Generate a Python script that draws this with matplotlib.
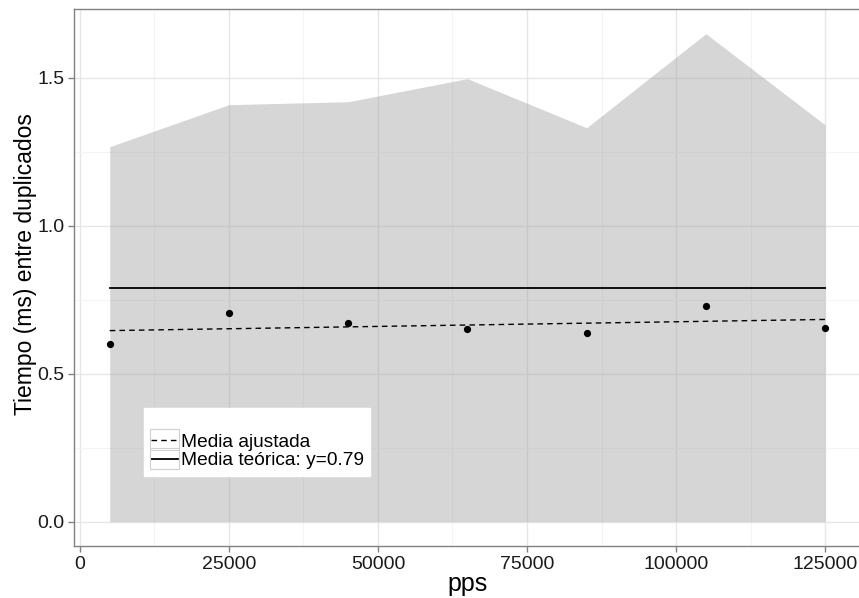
import numpy as np
import matplotlib.pyplot as plt
from matplotlib.patches import Rectangle

plt.rcParams['font.family'] = ['Liberation Sans', 'DejaVu Sans']

# measurements per packet rate
pps = np.array([5000, 25000, 45000, 65000, 85000, 105000, 125000])
media = np.array([0.601, 0.706, 0.670, 0.650, 0.639, 0.730, 0.654])
maximo = np.array([1.267, 1.409, 1.419, 1.497, 1.331, 1.649, 1.341])
media_teorica = 0.79

# linear fit of the mean
coef = np.polyfit(pps, media, 1)
ajuste = np.polyval(coef, pps)

fig = plt.figure(figsize=(8.59, 5.98), dpi=100)
ax = fig.add_axes([0.0861, 0.087, 0.916, 0.898])

ax.fill_between(pps, 0, maximo, color='#999999', alpha=0.4, linewidth=0, zorder=2)
ax.plot(pps, ajuste, color='black', linestyle=(0, (4, 3)), linewidth=1.0,
        label='Media ajustada', zorder=3)
ax.plot(pps, np.full(len(pps), media_teorica), color='black', linewidth=1.3,
        label='Media teórica: y=%.2f' % media_teorica, zorder=3)
ax.plot(pps, media, 'o', color='black', markersize=4.2, zorder=4)

ax.set_xlim(-1000, 131000)
ax.set_ylim(-0.0825, 1.7325)
ax.set_xticks([0, 25000, 50000, 75000, 100000, 125000])
ax.set_xticks([12500, 37500, 62500, 87500, 112500], minor=True)
ax.set_yticks([0.0, 0.5, 1.0, 1.5])
ax.set_yticks([0.25, 0.75, 1.25], minor=True)
ax.set_yticklabels(['0.0', '0.5', '1.0', '1.5'])

ax.grid(True, which='major', color='#e6e6e6', linewidth=1.0, zorder=0)
ax.grid(True, which='minor', color='#f4f4f4', linewidth=0.8, zorder=0)
ax.set_axisbelow(True)

for s in ax.spines.values():
    s.set_color('#808080')
    s.set_linewidth(1.0)
ax.tick_params(which='major', length=4, width=1, color='#808080',
               labelsize=14, labelcolor='#1a1a1a', pad=3)
ax.tick_params(which='minor', length=0)

ax.set_xlabel('pps', fontsize=18)
ax.set_ylabel('Tiempo (ms) entre duplicados', fontsize=16.5)
ax.xaxis.set_label_coords(0.5, -0.048)
ax.xaxis.label.set_verticalalignment('top')
ax.yaxis.set_label_coords(-0.047, 0.525)

leg = ax.legend(loc='lower left', bbox_to_anchor=(0.0889, 0.130), borderaxespad=0,
                title=' ', title_fontsize=13, fontsize=13.8, frameon=True,
                fancybox=False, handlelength=1.45, handletextpad=0.12,
                labelspacing=0.08, borderpad=0.35)
leg.get_frame().set_facecolor('white')
leg.get_frame().set_edgecolor('white')
leg.get_frame().set_alpha(1)
leg.set_zorder(5)

# light border around each legend key
fig.canvas.draw()
inv = fig.transFigure.inverted()
for h in leg.legend_handles:
    bb = h.get_window_extent(fig.canvas.get_renderer())
    (x0, y0), (x1, y1) = inv.transform([[bb.x0, bb.y0], [bb.x1, bb.y1]])
    ym = (y0 + y1) / 2
    hh = 21 / 598
    fig.patches.append(Rectangle((x0 - 1 / 859, ym - hh / 2), x1 - x0 + 2 / 859, hh,
                                 transform=fig.transFigure, fill=False,
                                 edgecolor='#d0d0d0', linewidth=0.8, zorder=6))

fig.savefig('out.png', dpi=100)
